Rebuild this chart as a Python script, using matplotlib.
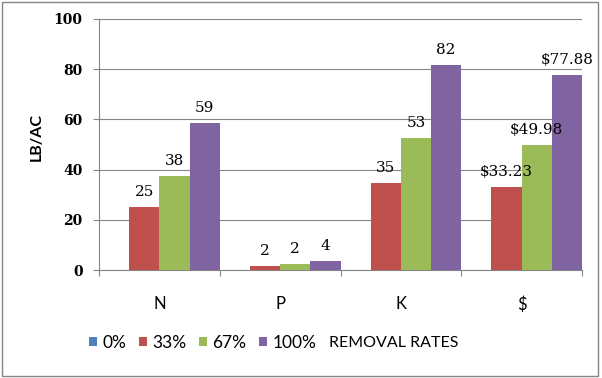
import matplotlib
matplotlib.use("Agg")
import matplotlib.pyplot as plt
from matplotlib.patches import Rectangle, Patch
import numpy as np

categories = ["N", "P", "K", "$"]
series_names = ["0%", "33%", "67%", "100%"]
values_0 = [0, 0, 0, 0]
values_33 = [25.0, 1.6, 34.8, 33.23]
values_67 = [37.6, 2.5, 52.7, 49.98]
values_100 = [58.7, 3.6, 81.7, 77.88]
labels_33 = ["25", "2", "35", "$33.23"]
labels_67 = ["38", "2", "53", "$49.98"]
labels_100 = ["59", "4", "82", "$77.88"]
legend_extra = "REMOVAL RATES"
yticks = [0, 20, 40, 60, 80, 100]
colors = ["#4F81BD", "#C0504D", "#9BBB59", "#8064A2"]

W, H = 602, 378
fig = plt.figure(figsize=(W / 100, H / 100), dpi=100)
fig.patch.set_facecolor("white")
fig.patches.append(Rectangle((2 / W, 2 / H), 596 / W, 374 / H, transform=fig.transFigure,
                             fill=False, edgecolor="#868686", linewidth=1.0))

ax = fig.add_axes([99 / W, 1 - 270 / H, 483 / W, 251 / H])
x = np.arange(len(categories))
width = 0.25
all_vals = [values_0, values_33, values_67, values_100]
all_labels = [None, labels_33, labels_67, labels_100]
for i, (vals, c) in enumerate(zip(all_vals, colors)):
    b = ax.bar(x + (i - 1.5) * width, vals, width, color=c, linewidth=0, zorder=3)
    labs = all_labels[i]
    if labs is not None:
        for rect, lab in zip(b, labs):
            ax.annotate(lab, (rect.get_x() + rect.get_width() / 2, rect.get_height()),
                        xytext=(0, 8), textcoords="offset pixels", ha="center", va="bottom",
                        fontsize=11, family="DejaVu Serif", color="black", zorder=4)

ax.set_xlim(-0.5, len(categories) - 0.5)
ax.set_ylim(0, 100)
ax.set_yticks(yticks)
ax.set_yticklabels([str(t) for t in yticks], fontsize=10, family="DejaVu Serif", fontweight="bold")
ax.yaxis.grid(True, color="#868686", linewidth=0.8, zorder=0)
ax.set_axisbelow(True)

ax.set_xticks(x)
ax.set_xticklabels(categories, fontsize=12, family="Lato")
ax.set_xticks(np.arange(len(categories) + 1) - 0.5, minor=True)
ax.tick_params(axis="x", which="major", length=0, pad=19)
ax.tick_params(axis="x", which="minor", length=4.3, color="#868686", width=0.8)
ax.tick_params(axis="y", length=4.3, color="#868686", width=0.8, pad=7.5)

for s in ["top", "right"]:
    ax.spines[s].set_visible(False)
for s in ["left", "bottom"]:
    ax.spines[s].set_color("#868686")
    ax.spines[s].set_linewidth(0.8)

ax.set_ylabel("LB/AC", fontsize=11.5, family="Lato", fontweight="bold")
ax.yaxis.set_label_coords((44 - 99) / 483, (270 - 137) / 251)

handles = [Patch(facecolor=c, edgecolor="none") for c in colors]
leg = fig.legend(handles, series_names, loc="center left", bbox_to_anchor=(89 / W, 1 - 343 / H),
                 ncol=4, frameon=False, prop={"family": "Lato", "size": 12.5},
                 handlelength=0.45, handleheight=0.45, handletextpad=0.3, columnspacing=0.75,
                 borderpad=0, borderaxespad=0)

fig.canvas.draw()
bb = leg.get_window_extent()
fig.text((bb.x1 + 13) / W, 1 - 343 / H, legend_extra, ha="left", va="center",
         fontsize=11.5, family="Lato")

fig.savefig("out.png", dpi=100)
